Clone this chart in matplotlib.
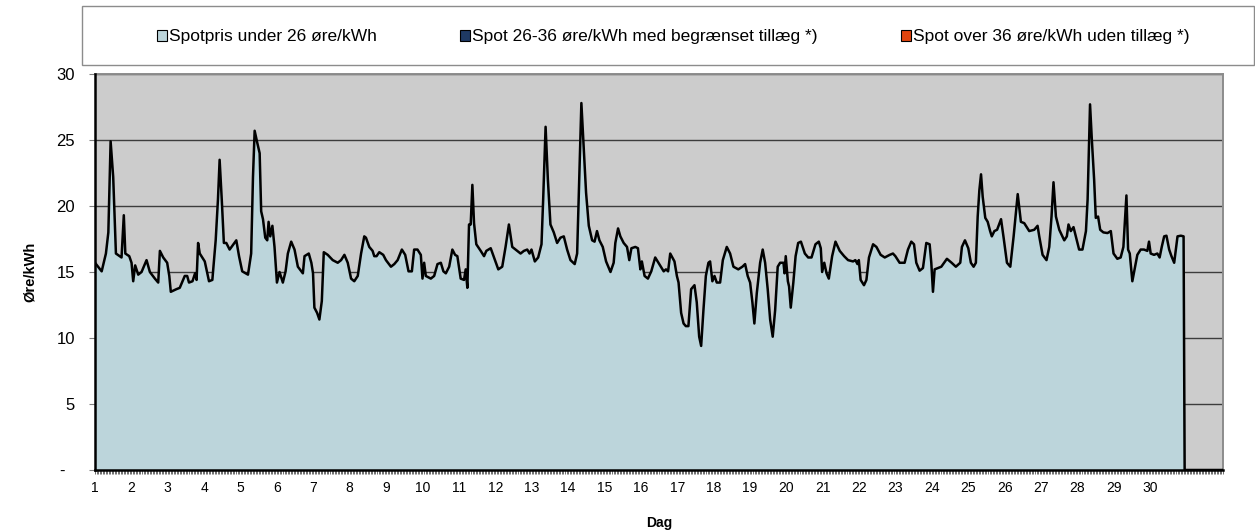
import matplotlib
matplotlib.use('Agg')
import matplotlib.pyplot as plt
from matplotlib.patches import Patch, Rectangle
from matplotlib.ticker import FixedLocator, MultipleLocator
from matplotlib.transforms import ScaledTranslation

plt.rcParams['font.family'] = ['Liberation Sans', 'DejaVu Sans']

# ---------------- data ----------------
day_labels = [str(d) for d in range(1, 31)]
y_ticks = [0, 5, 10, 15, 20, 25, 30]
y_tick_labels = ['-', '5', '10', '15', '20', '25', '30']
legend_labels = ['Spotpris under 26 øre/kWh',
                 'Spot 26-36 øre/kWh med begrænset tillæg *)',
                 'Spot over 36 øre/kWh uden tillæg *)']
legend_colors = ['#BCD5DB', '#1F3A64', '#E0440E']

# hour of month (0 = start of day 1) and spot price
hours = [0, 4.4, 7.2, 8.8, 10.3, 12, 13.8, 17.5, 19, 20, 22.6, 24.1, 25.2, 26.5, 28.5, 30.7,
         34, 36.2, 39.5, 41.7, 42.8, 45, 47.6, 49, 50, 53.7, 55.9, 59.2, 60.8, 62, 64.3, 66,
         67, 68, 69.1, 72.4, 75.2, 77.4, 79.6, 81.1, 82.2, 83.6, 85, 86.6, 88.8, 93.2, 95,
         97.1, 100.9, 103, 104.2, 105.3, 107, 108.6, 109.6, 110.8, 112.3, 113.6, 114.5,
         115.6, 117, 118.4, 120, 121.7,
         123.9, 125.7, 127.2, 129.4, 131.6, 133.8, 137.1, 138.2, 141, 142.7, 143.8, 144.7,
         146.5, 148, 149.6, 150.9, 153.5, 156.8, 160.1, 162.3, 164.5, 166.7, 168.9, 171,
         173.3, 175.5, 177.6, 178.7, 180.9, 183.1, 184.2, 185.7, 187.5, 190.1, 191.9, 195.2,
         197.4, 199.6, 202.4, 204.6, 206.8, 209, 210.5, 212.7, 214.9, 216, 217.1, 218.2,
         221.5, 223.7, 225.9, 228.1, 229.8, 231.4, 233.6, 235.7, 237.5,
         239, 241.2, 243.4, 244.5, 245.6, 246.7, 247.8, 248.9, 250, 251.5, 254.4, 256.6,
         258.1, 261, 263.8, 266, 268.6, 270.8, 273, 275.2, 278.5, 280.7, 282.9, 285.1, 286.6,
         287.9, 290.1, 292.3, 294.5, 295.6, 297.2, 298.7, 300.4, 302.6, 304.8, 307, 309.2,
         311.4, 313.6, 316.4, 318, 319.5, 320.8, 322.4, 323.9, 325.7, 327.9, 329.5, 331.1,
         332.7, 334.9, 337.1, 340, 342.1, 343.2, 345, 346.5, 348.7, 350.9, 352.4, 353.8,
         356.4, 358.1,
         359.7, 360.7, 362.5, 364.7, 366.9, 369.5, 372.2, 375.1, 376.6, 378, 379.4, 382.2,
         383.8, 384.9, 386.6, 388.2, 389.7, 391.4, 393.2, 395.4, 396.9, 398.5, 399.8, 401.3,
         402.9, 404.6, 405.7, 407.2, 408.6, 410.1, 412.3, 414.1, 416.7, 418.9, 421.1, 424.3,
         427, 428.8, 430.5, 432.1, 433.6, 434.9, 436.5, 438.7, 440.4, 442, 443.7, 445.3, 447,
         448.6, 450.3, 451.9, 454.1, 454.8, 455.6, 457, 457.8, 458.9, 460.6, 462.1, 463.8,
         465.6, 468.2, 470.4, 472.6,
         475.2, 477.4, 478.7, 479.6, 481, 482.5, 484, 486.2, 488.4, 491.2, 494.1, 496.7, 500,
         501.5, 502.9, 503.8, 505, 507.2, 508.8, 510.5, 513.2, 515.4, 518.2, 520.9, 524.2,
         526.3, 527.9, 530.7, 534, 536.2, 538.4, 540.2, 541.7, 543.9, 546.1, 548.3, 550.5,
         551.6, 552.7, 553.8, 556, 558.2, 561.9, 565, 567.8, 570.7, 571.8, 573.8, 576, 577.7,
         579.5, 581, 582.2, 583.3, 584.4, 585.5, 587.2, 588.8, 590.4, 591.5, 593.2, 595,
         597.6, 599.3, 601.5, 603.7, 605.9, 608.6, 610.7, 612.9, 616.2, 619.5, 621.7, 622.8,
         625, 627.6, 629.4, 630.9, 632.2, 633.8, 636, 639.3, 641, 642.1, 643.6, 645.4, 646.9,
         649.1, 651.3, 653.6, 654.7, 656.3, 657.5, 659, 660.1, 661.6, 663, 665.1, 667.8, 670,
         671.8, 674.3, 676.5, 678.3, 679.2, 680.3, 681.4, 682.5, 684.2, 686, 687.5, 689.7,
         691.9, 694.1, 695.2, 696.3, 698.5, 700.7, 702.2, 703.6, 705.2, 706.7, 708.5, 710,
         711.8, 714, 716.2, 718, 718.7, 744]
prices = [15.7, 15.05, 16.4, 18.0, 24.9, 22.2, 16.4, 16.1, 19.3, 16.4, 16.2, 15.7, 14.3, 15.5,
          14.8, 15.0, 15.9, 15.0, 14.5, 14.2, 16.6, 16.1, 15.7, 14.7, 13.5, 13.7, 13.8, 14.7,
          14.7, 14.2, 14.3, 14.9, 14.4, 17.2, 16.4, 15.8, 14.3, 14.4, 17.4, 20.5, 23.5, 20.5,
          17.2, 17.2, 16.7, 17.4, 16.2, 15.05, 14.8, 16.4, 22.2, 25.7, 24.8, 24.0, 19.6, 19.0,
          17.6, 17.4, 18.8, 17.7, 18.5, 16.9, 14.2, 15.0,
          14.2, 15.05, 16.4, 17.3, 16.7, 15.4, 14.9, 16.2, 16.4, 15.7, 14.9, 12.3, 11.9, 11.4,
          12.8, 16.5, 16.3, 15.9, 15.7, 15.9, 16.3, 15.7, 14.5, 14.3, 14.7, 16.4, 17.7, 17.6,
          16.9, 16.6, 16.2, 16.2, 16.5, 16.3, 15.9, 15.4, 15.6, 15.9, 16.7, 16.3, 15.05, 15.05,
          16.7, 16.7, 16.3, 14.5, 15.7, 14.7, 14.5, 14.7, 15.6, 15.7, 15.05, 14.9, 15.4, 16.7,
          16.3,
          16.2, 14.5, 14.4, 15.2, 13.8, 18.6, 18.6, 21.6, 18.7, 17.1, 16.6, 16.2, 16.6, 16.8,
          15.9, 15.2, 15.4, 16.9, 18.6, 16.9, 16.6, 16.4, 16.6, 16.7, 16.4, 16.7, 15.8, 16.1,
          17.1, 20.5, 26.0, 22.0, 18.6, 18.0, 17.2, 17.6, 17.7, 16.7, 15.9, 15.6, 16.4, 22.5,
          27.8, 24.3, 21.0, 18.5, 17.4, 17.3, 18.1, 17.4, 16.9, 15.8, 15.0, 15.7, 17.2, 18.3,
          17.7, 17.2, 16.9, 15.9, 16.8, 16.9, 16.8,
          15.2, 15.8, 14.7, 14.5, 15.05, 16.1, 15.6, 15.05, 15.2, 15.05, 16.4, 15.8, 14.7, 14.2,
          11.9, 11.1, 10.9, 10.9, 13.7, 14.0, 12.7, 10.1, 9.4, 12.1, 14.7, 15.7, 15.8, 14.3,
          14.7, 14.2, 14.2, 15.9, 16.9, 16.4, 15.4, 15.2, 15.4, 15.6, 14.7, 14.2, 12.7, 11.1,
          13.4, 15.7, 16.7, 15.7, 13.7, 11.4, 10.1, 12.1, 15.4, 15.7, 15.7, 14.9, 16.2, 14.3,
          13.9, 12.3, 14.2, 16.2, 17.2, 17.3, 16.4, 16.1, 16.1,
          17.1, 17.3, 16.8, 15.0, 15.7, 14.9, 14.5, 16.2, 17.3, 16.6, 16.2, 15.9, 15.8, 15.9,
          15.6, 15.9, 14.4, 14.0, 14.4, 16.1, 17.1, 16.9, 16.3, 16.1, 16.3, 16.4, 16.2, 15.7,
          15.7, 16.7, 17.3, 17.1, 15.7, 15.1, 15.3, 17.2, 17.1, 15.7, 13.5, 15.2, 15.3, 15.4,
          16.0, 15.7, 15.4, 15.7, 16.9, 17.4, 16.8, 15.7, 15.4, 15.7, 19.2, 21.2, 22.4, 20.7,
          19.1, 18.8, 18.1, 17.7, 18.1, 18.2,
          19.0, 17.6, 15.7, 15.4, 17.7, 20.9, 18.8, 18.7, 18.1, 18.2, 18.5, 17.7, 16.3, 15.9,
          16.9, 19.2, 21.8, 19.2, 18.2, 17.4, 17.7, 18.6, 18.1, 18.4, 17.7, 16.7, 16.7, 18.1,
          20.5, 27.7, 25.0, 22.0, 19.1, 19.2, 18.2, 18.0, 17.95, 18.1, 16.4, 16.0, 16.1, 16.9,
          18.7, 20.8, 16.7, 16.4, 14.3, 15.4, 16.3, 16.7, 16.7, 16.6, 17.3, 16.4, 16.3, 16.4,
          16.1, 16.9, 17.7, 17.75, 16.7, 16.2, 15.7, 17.7, 17.75, 17.7, 0, 0]

# ---------------- figure ----------------
W, H = 1255, 530
fig = plt.figure(figsize=(W / 100, H / 100), dpi=100)
fig.patch.set_facecolor('white')

L, R, T, B = 95, 1223, 74, 470
ax = fig.add_axes([L / W, 1 - B / H, (R - L) / W, (B - T) / H])
ax.set_facecolor('#CCCCCC')

ax.fill_between(hours, prices, 0, color=legend_colors[0], lw=0, zorder=2)
ax.plot(hours, prices, color='black', lw=1.8, zorder=3, solid_joinstyle='round')

ax.set_xlim(0, 744)
ax.set_ylim(0, 30)

ax.set_axisbelow(True)
ax.yaxis.grid(True, color='#3C3C3C', lw=1.0)
ax.xaxis.grid(False)

for s in ['top', 'right']:
    ax.spines[s].set_color('#8C8C8C')
    ax.spines[s].set_linewidth(1.4)
for s in ['left', 'bottom']:
    ax.spines[s].set_color('black')
    ax.spines[s].set_linewidth(1.8)
    ax.spines[s].set_zorder(4)

# x axis: a day label every 24 hours, a tick every hour
ax.xaxis.set_major_locator(FixedLocator(list(range(0, 745, 24))))
ax.set_xticklabels(day_labels + ['', ''])
ax.xaxis.set_minor_locator(MultipleLocator(1))
ax.tick_params(axis='x', which='both', direction='out', length=3, width=0.6,
               color='#555555', labelsize=10, pad=5)

ax.set_yticks(y_ticks)
ax.set_yticklabels(y_tick_labels)
ax.tick_params(axis='y', which='major', direction='out', length=4.5, width=0.8,
               color='#808080', labelsize=12, pad=10)

ax.set_xlabel('Dag', fontsize=10, fontweight='bold')
ax.xaxis.set_label_coords(0.5, (B - 523) / (B - T))
ax.xaxis.label.set_va('center')
ax.set_ylabel('Øre/kWh', fontsize=10.5, fontweight='bold')
ax.yaxis.set_label_coords((30 - L) / (R - L), 0.5)
ax.yaxis.label.set_va('center')

# the zero label is a dash set in from the right like the source format
zero_lab = ax.get_yticklabels()[0]
zero_lab.set_transform(zero_lab.get_transform() +
                       ScaledTranslation(-10 / 100, 0, fig.dpi_scale_trans))

# legend box across the top
fig.add_artist(Rectangle((82 / W, 1 - 65 / H), (1254 - 82) / W, (65 - 6) / H,
                         transform=fig.transFigure, facecolor='white',
                         edgecolor='#8C8C8C', lw=1.0, zorder=0))
handles = [Patch(facecolor=c, edgecolor='black', lw=0.8) for c in legend_colors]
fig.legend(handles, legend_labels, loc='center', bbox_to_anchor=(673 / W, 1 - 37 / H),
           ncol=3, frameon=False, fontsize=12.5, handlelength=0.58, handleheight=0.58,
           handletextpad=0.12, columnspacing=4.8, borderpad=0)

fig.savefig('out.png', dpi=100, facecolor='white')
